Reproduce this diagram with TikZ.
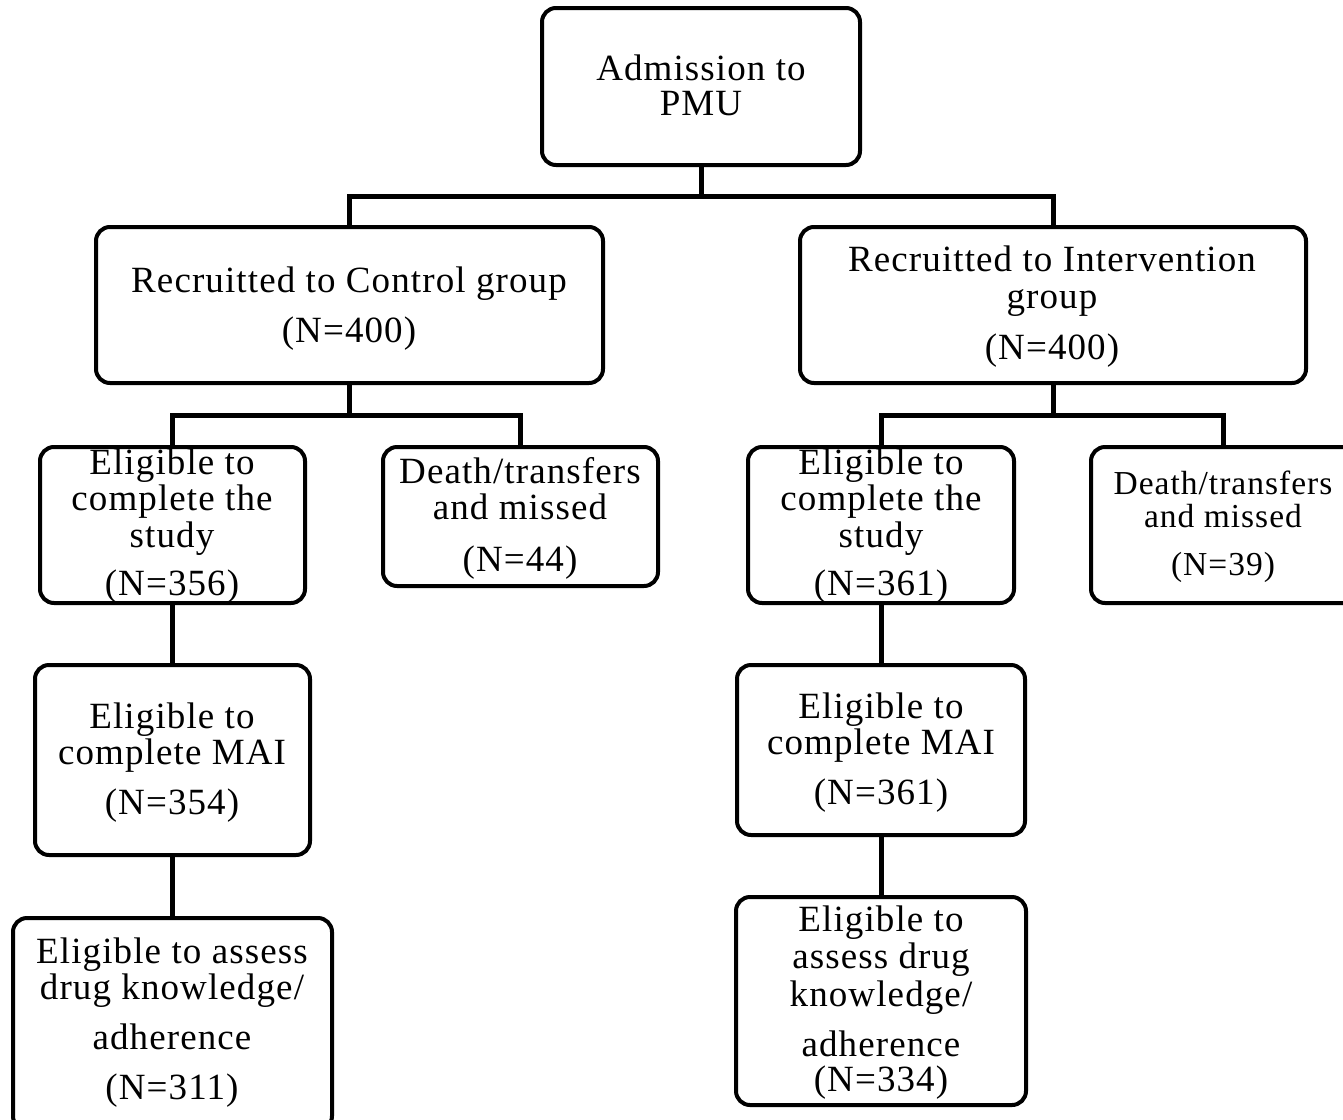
\documentclass[tikz,border=0pt]{standalone}
\usepackage{fontspec}
\setmainfont{Liberation Serif}[LetterSpace=3]
\begin{document}
\begin{tikzpicture}[x=1pt,y=-1pt,
  box/.style={draw, line width=4pt, rounded corners=14pt, inner sep=0pt, fill=white},
  txt/.style={font=\fontsize{37}{38}\selectfont, inner sep=0pt, anchor=mid, yshift=-9pt},
  txts/.style={font=\fontsize{33.5}{35}\selectfont, inner sep=0pt, anchor=mid, yshift=-8pt},
  link/.style={line width=5pt}]
\useasboundingbox (0,0) rectangle (1343,1119);
\fill[white] (0,0) rectangle (1343,1119);
% boxes
\node[box, minimum width=318pt, minimum height=157pt] (adm) at (701,86.5) {};
\node[box, minimum width=507pt, minimum height=156pt] (ctl) at (349.5,305) {};
\node[box, minimum width=506pt, minimum height=156pt] (int) at (1053,305) {};
\node[box, minimum width=265pt, minimum height=156pt] (el1) at (172.5,525) {};
\node[box, minimum width=275pt, minimum height=139pt] (dt1) at (520.5,516.5) {};
\node[box, minimum width=266pt, minimum height=156pt] (el2) at (881,525) {};
\node[box, minimum width=268pt, minimum height=156pt] (dt2) at (1225,525) {};
\node[box, minimum width=275pt, minimum height=190pt] (mai1) at (172.5,760) {};
\node[box, minimum width=288pt, minimum height=170pt] (mai2) at (881,750) {};
\node[box, minimum width=319pt, minimum height=212pt] (kn1) at (172.5,1024) {};
\node[box, minimum width=290pt, minimum height=208pt] (kn2) at (881,1001) {};
% connectors
\coordinate (j1) at (701,196);
\coordinate (j2) at (349.5,415);
\coordinate (j3) at (1053,415);
\draw[link] (adm.south) -- (j1);
\draw[link] (j1) -| (ctl.north);
\draw[link] (j1) -| (int.north);
\draw[link] (ctl.south) -- (j2);
\draw[link] (j2) -| (el1.north);
\draw[link] (j2) -| (dt1.north);
\draw[link] (int.south) -- (j3);
\draw[link] (j3) -| (el2.north);
\draw[link] (j3) -| ([xshift=-2pt]dt2.north);
\draw[link] (el1.south) -- (mai1.north);
\draw[link] (mai1.south) -- (kn1.north);
\draw[link] (el2.south) -- (mai2.north);
\draw[link] (mai2.south) -- (kn2.north);
% texts
\node[txt] (t1) at (701,69) {Admission to};
\node[txt] (t2) at (701,104) {PMU};
\node[txt] (t3) at (349,281) {Recruitted to Control group};
\node[txt] (t4) at (349,331) {(N=400)};
\node[txt] (t5) at (1052,260) {Recruitted to Intervention};
\node[txt] (t6) at (1052,297) {group};
\node[txt] (t7) at (1052,348) {(N=400)};
\node[txt] (t8) at (172,463) {Eligible to};
\node[txt] (t9) at (172,499) {complete the};
\node[txt] (t10) at (172,536) {study};
\node[txt] (t11) at (172,584) {(N=356)};
\node[txt] (t12) at (520,472) {Death/transfers};
\node[txt] (t13) at (520,508) {and missed};
\node[txt] (t14) at (520,560) {(N=44)};
\node[txt] (t15) at (881,463) {Eligible to};
\node[txt] (t16) at (881,499) {complete the};
\node[txt] (t17) at (881,536) {study};
\node[txt] (t18) at (881,584) {(N=361)};
\node[txts] (t19) at (1223,484) {Death/transfers};
\node[txts] (t20) at (1223,517) {and missed};
\node[txts] (t21) at (1223,565) {(N=39)};
\node[txt] (t22) at (172,717) {Eligible to};
\node[txt] (t23) at (172,753) {complete MAI};
\node[txt] (t24) at (172,803) {(N=354)};
\node[txt] (t25) at (881,707) {Eligible to};
\node[txt] (t26) at (881,743) {complete MAI};
\node[txt] (t27) at (881,793) {(N=361)};
\node[txt] (t28) at (172,952) {Eligible to assess};
\node[txt] (t29) at (172,988) {drug knowledge/};
\node[txt] (t30) at (172,1038) {adherence};
\node[txt] (t31) at (172,1088) {(N=311)};
\node[txt] (t32) at (881,920) {Eligible to};
\node[txt] (t33) at (881,957) {assess drug};
\node[txt] (t34) at (881,995) {knowledge/};
\node[txt] (t35) at (881,1045) {adherence};
\node[txt] (t36) at (881,1080) {(N=334)};
\end{tikzpicture}
\end{document}
